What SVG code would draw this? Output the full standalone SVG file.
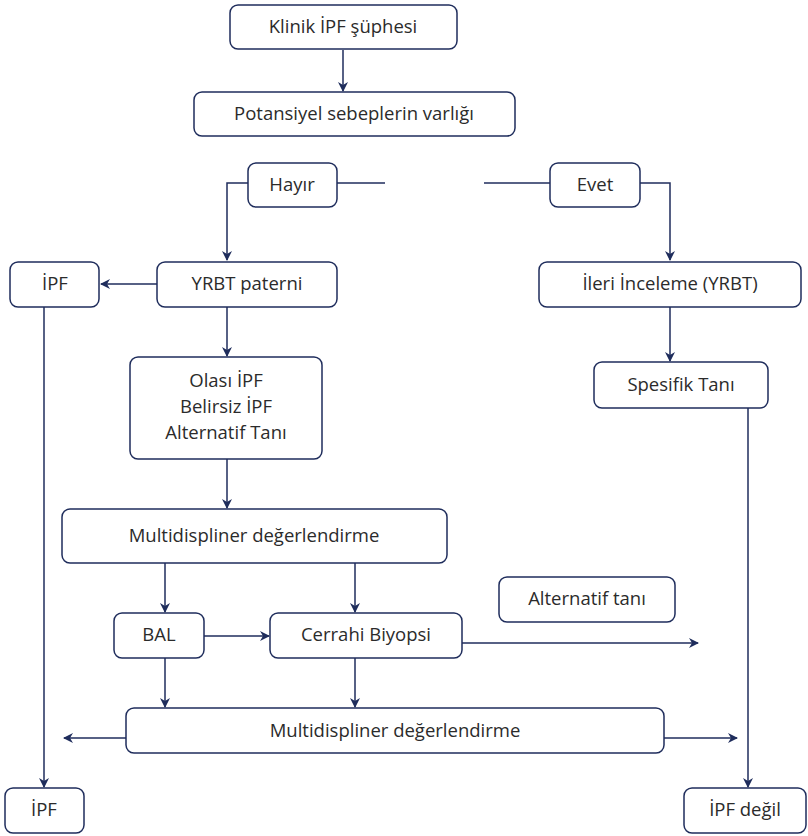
<svg xmlns="http://www.w3.org/2000/svg" width="808" height="836" viewBox="0 0 808 836">
<style>
.box{fill:#fff;stroke:#1f2d5c;stroke-width:1.5}
.t{font-family:"Open Sans","Noto Sans",sans-serif;font-size:18.5px;fill:#2b2b2b;text-anchor:middle}
.c{fill:none;stroke:#1f2d5c;stroke-width:1.5}
</style>
<defs>
<marker id="ah" viewBox="0 0 10 10" refX="9" refY="5" markerWidth="10" markerHeight="10" markerUnits="userSpaceOnUse" orient="auto">
<path d="M0,0 L10,5 L0,10 L3,5 z" fill="#1f2d5c"/>
</marker>
</defs>
<rect width="808" height="836" fill="#fff"/>
<g id="connectors">
<path class="c" d="M343,50 V91" marker-end="url(#ah)"/>
<path class="c" d="M337,183 H385"/>
<path class="c" d="M484,183 H550"/>
<path class="c" d="M248,183 H227 V260" marker-end="url(#ah)"/>
<path class="c" d="M640,183 H670 V260" marker-end="url(#ah)"/>
<path class="c" d="M157,284 H101" marker-end="url(#ah)"/>
<path class="c" d="M44,307 V787" marker-end="url(#ah)"/>
<path class="c" d="M227,307 V356" marker-end="url(#ah)"/>
<path class="c" d="M670,307 V361" marker-end="url(#ah)"/>
<path class="c" d="M227,459 V508" marker-end="url(#ah)"/>
<path class="c" d="M748,408 V787" marker-end="url(#ah)"/>
<path class="c" d="M165,563 V612" marker-end="url(#ah)"/>
<path class="c" d="M355,563 V612" marker-end="url(#ah)"/>
<path class="c" d="M204,636 H269" marker-end="url(#ah)"/>
<path class="c" d="M462,643 H698" marker-end="url(#ah)"/>
<path class="c" d="M165,658 V707" marker-end="url(#ah)"/>
<path class="c" d="M355,658 V707" marker-end="url(#ah)"/>
<path class="c" d="M126,738 H64" marker-end="url(#ah)"/>
<path class="c" d="M664,738 H737" marker-end="url(#ah)"/>
</g>
<g id="n-klinik"><rect class="box" x="230" y="5" width="227" height="44" rx="8"/><text class="t" x="343" y="33">Klinik İPF şüphesi</text></g>
<g id="n-potansiyel"><rect class="box" x="194" y="92" width="321" height="44" rx="8"/><text class="t" x="354" y="120">Potansiyel sebeplerin varlığı</text></g>
<g id="n-hayir"><rect class="box" x="248" y="163" width="89" height="44" rx="8"/><text class="t" x="292" y="191">Hayır</text></g>
<g id="n-evet"><rect class="box" x="550" y="163" width="90" height="44" rx="8"/><text class="t" x="595" y="191">Evet</text></g>
<g id="n-ipf1"><rect class="box" x="10" y="262" width="89" height="45" rx="8"/><text class="t" x="55" y="290">İPF</text></g>
<g id="n-yrbt"><rect class="box" x="157" y="262" width="180" height="45" rx="8"/><text class="t" x="247" y="290">YRBT paterni</text></g>
<g id="n-ileri"><rect class="box" x="539" y="262" width="262" height="45" rx="8"/><text class="t" x="670" y="290">İleri İnceleme (YRBT)</text></g>
<g id="n-olasi"><rect class="box" x="130" y="357" width="192" height="102" rx="8"/><text class="t" x="226" y="387">Olası İPF</text><text class="t" x="226" y="413">Belirsiz İPF</text><text class="t" x="226" y="439">Alternatif Tanı</text></g>
<g id="n-spesifik"><rect class="box" x="594" y="362" width="174" height="46" rx="8"/><text class="t" x="681" y="391">Spesifik Tanı</text></g>
<g id="n-multi1"><rect class="box" x="62" y="509" width="385" height="54" rx="8"/><text class="t" x="254" y="542">Multidispliner değerlendirme</text></g>
<g id="n-alt"><rect class="box" x="499" y="577" width="176" height="45" rx="8"/><text class="t" x="587" y="605">Alternatif tanı</text></g>
<g id="n-bal"><rect class="box" x="114" y="613" width="90" height="45" rx="8"/><text class="t" x="159" y="641">BAL</text></g>
<g id="n-cerrahi"><rect class="box" x="270" y="613" width="192" height="45" rx="8"/><text class="t" x="366" y="641">Cerrahi Biyopsi</text></g>
<g id="n-multi2"><rect class="box" x="126" y="708" width="538" height="45" rx="8"/><text class="t" x="395" y="737">Multidispliner değerlendirme</text></g>
<g id="n-ipf2"><rect class="box" x="5" y="788" width="79" height="45" rx="8"/><text class="t" x="44" y="816">İPF</text></g>
<g id="n-ipfdegil"><rect class="box" x="684" y="788" width="122" height="45" rx="8"/><text class="t" x="745" y="816">İPF değil</text></g>
</svg>
